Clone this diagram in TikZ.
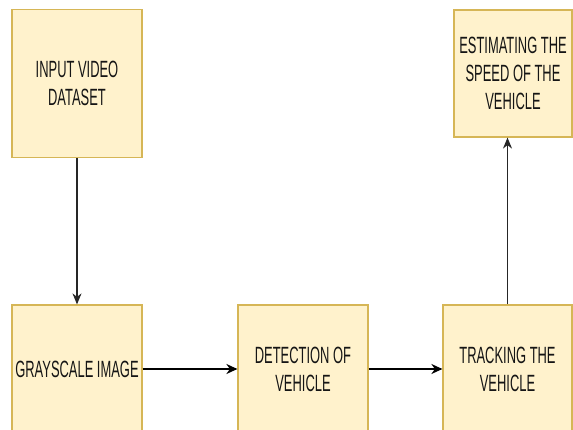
\documentclass[tikz,border=0pt]{standalone}
\usepackage{fontspec}
\setmainfont{Liberation Sans}[FakeStretch=0.55]
\usetikzlibrary{arrows.meta}
\definecolor{boxfill}{HTML}{FFF2CC}
\definecolor{boxdraw}{HTML}{D6B656}
\definecolor{txt}{HTML}{151515}
\begin{document}
\begin{tikzpicture}[x=1pt,y=-1pt,
  box/.style={draw=boxdraw,fill=boxfill,line width=1.2pt,inner sep=0pt,
    align=center,text=txt,font=\fontsize{23.5}{28}\selectfont},
  flow/.style={-{Stealth[length=11pt,width=10pt,inset=3.5pt]},line width=1.7pt,black},
  vflow/.style={-{Stealth[length=11pt,width=9pt,inset=3.5pt]},line width=1.1pt,black!85}]
\useasboundingbox (0,0) rectangle (573,430);
\clip (0,0) rectangle (573,430);
\fill[white] (0,0) rectangle (573,430);
\node[box,minimum width=130pt,minimum height=148pt] (in) at (77,83.5) {INPUT VIDEO\\DATASET};
\node[box,minimum width=118pt,minimum height=127pt] (est) at (513,73.5) {ESTIMATING THE\\SPEED OF THE\\VEHICLE};
\node[box,minimum width=130pt,minimum height=128pt] (gs) at (77,369) {GRAYSCALE IMAGE};
\node[box,minimum width=130pt,minimum height=128pt] (det) at (303,369) {DETECTION OF\\VEHICLE};
\node[box,minimum width=129pt,minimum height=128pt] (tr) at (507.5,369) {TRACKING THE\\VEHICLE};
\draw[vflow] (in.south) -- (gs.north);
\draw[flow] (gs.east) -- (det.west);
\draw[flow] (det.east) -- (tr.west);
\draw[vflow] (tr.north) -- (tr.north |- est.south);
\end{tikzpicture}
\end{document}
